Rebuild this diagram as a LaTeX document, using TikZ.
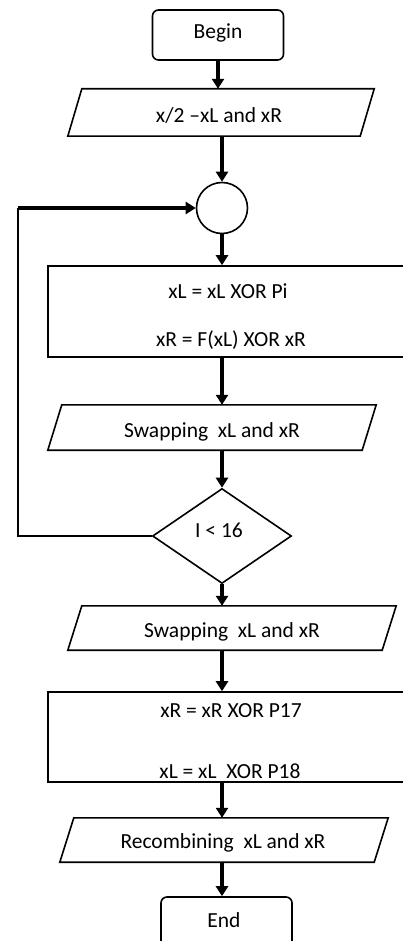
\documentclass[tikz,border=0pt]{standalone}
\usepackage{fontspec}
\setmainfont{Carlito}
\usetikzlibrary{arrows.meta,shapes.geometric}
\begin{document}
\begin{tikzpicture}[x=1pt,y=-1pt,
  box/.style={draw,line width=1.6pt,inner sep=0pt},
  term/.style={box,rounded corners=6pt},
  io/.style={inner sep=0pt,minimum height=#1},
  arr/.style={line width=3.2pt,-{Triangle[width=12pt,length=10pt]}},
  txt/.style={font=\fontsize{21.5}{25}\selectfont,text=black}]
\useasboundingbox (0,0) rectangle (403,941);
\clip (0,0) rectangle (403,941);

\node[term,minimum width=131pt,minimum height=50pt] (begin) at (218,35) {};
\node[txt] (begint) at (218,33) {Begin};

\node[io=47pt,minimum width=292pt] (p1) at (221,112.5) {};
\node[txt] (p1t) at (219,115) {x/2 \textendash xL and xR};

\node[box,circle,minimum size=51pt] (circ) at (222,208) {};

\node[box,minimum width=362pt,minimum height=91pt] (r1) at (229,311.5) {};
\node[txt] (r1a) at (228,291) {xL = xL XOR Pi};
\node[txt] (r1b) at (231,340) {xR = F(xL) XOR xR};

\node[io=45pt,minimum width=314pt] (p2) at (212,427.5) {};
\node[txt] (p2t) at (212,432) {Swapping~ xL and xR};

\node[box,diamond,minimum width=139pt,minimum height=95pt] (dia) at (222,536) {};
\node[txt] (diat) at (219,530) {I < 16};

\node[io=44pt,minimum width=314pt] (p3) at (232,628) {};
\node[txt] (p3t) at (232,632) {Swapping~ xL and xR};

\node[box,minimum width=362pt,minimum height=90pt] (r2) at (229,737) {};
\node[txt] (r2a) at (231,711) {xR = xR XOR P17};
\node[txt] (r2b) at (230,771) {xL = xL~ XOR P18};

\node[io=44pt,minimum width=314pt] (p4) at (224,840) {};
\node[txt] (p4t) at (223,843) {Recombining~ xL and xR};

\node[term,minimum width=131pt,minimum height=60pt] (end) at (226.5,927) {};
\node[txt] (endt) at (224,920) {End};

\foreach \p in {p1,p2,p3,p4}
  \draw[line width=1.6pt,line join=miter]
    ([xshift=7pt]\p.north west) -- ([xshift=7pt]\p.north east) --
    ([xshift=-7pt]\p.south east) -- ([xshift=-7pt]\p.south west) -- cycle;

\draw[arr] (begin.south) -- (begin.south |- p1.north);
\draw[arr] (circ.north |- p1.south) -- (circ.north);
\draw[arr] (circ.south) -- (circ.south |- r1.north);
\draw[arr] (circ.south |- r1.south) -- (circ.south |- p2.north);
\draw[arr] (dia.north |- p2.south) -- (dia.north);
\draw[arr] (dia.south) -- (dia.south |- p3.north);
\draw[arr] (dia.south |- p3.south) -- (dia.south |- r2.north);
\draw[arr] (dia.south |- r2.south) -- (dia.south |- p4.north);
\draw[arr] (dia.south |- p4.south) -- (dia.south |- end.north);

\coordinate (lp) at (18,528);
\draw[line width=1.8pt] (dia.west) -- (dia.west -| lp) -- (lp |- circ.west);
\draw[arr] (lp |- circ.west) -- (circ.west);
\end{tikzpicture}
\end{document}
